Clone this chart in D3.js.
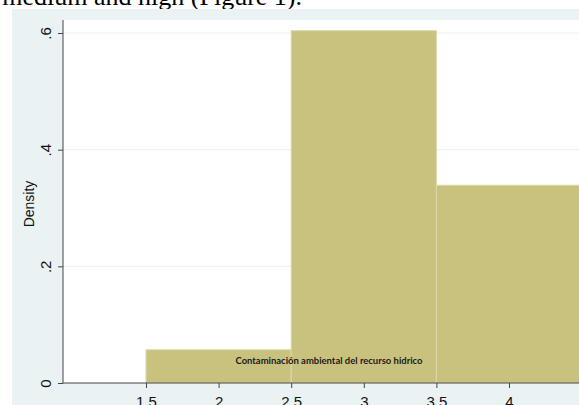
<!DOCTYPE html>
<html><head><meta charset="utf-8">
<script src="https://cdn.jsdelivr.net/npm/d3@7"></script>
<style>html,body{margin:0;padding:0;background:#fff;overflow:hidden}</style>
</head><body>
<svg id="c" width="579" height="405"></svg>
<script>
const binEdges = [1.5, 2.5, 3.5, 4.5];
const densities = [0.057, 0.604, 0.339];
const xTicks = [1.5, 2, 2.5, 3, 3.5, 4];
const xTickLabels = ["1.5", "2", "2.5", "3", "3.5", "4"];
const yTicks = [0, 0.2, 0.4, 0.6];
const yTickLabels = ["0", ".2", ".4", ".6"];
const yTitle = "Density";
const noteText = "Contaminación ambiental del recurso hidrico";
const headText = "medium and high (Figure 1).";

const svg = d3.select("#c");
const W = 579, H = 405;
const plot = {left: 63, top: 20, right: 579, bottom: 383};

const x = d3.scaleLinear().domain([1.5, 4]).range([146, 509]);
const y = d3.scaleLinear().domain([0, 0.6]).range([383, 33]);

// page text above
svg.append("text").attr("x", 302).attr("y", 5).attr("text-anchor", "end")
  .attr("font-family", "Liberation Serif, Times New Roman, serif").attr("font-size", 26)
  .attr("fill", "#000").text(headText);

// graph region
svg.append("rect").attr("x", 12).attr("y", 9).attr("width", W - 12).attr("height", H - 9).attr("fill", "#eaf2f3");
// plot region
svg.append("rect").attr("x", plot.left).attr("y", plot.top).attr("width", plot.right - plot.left)
  .attr("height", plot.bottom - plot.top).attr("fill", "#fff");

svg.append("clipPath").attr("id", "clip").append("rect")
  .attr("x", plot.left).attr("y", plot.top).attr("width", plot.right - plot.left).attr("height", plot.bottom - plot.top);

const g = svg.append("g").attr("clip-path", "url(#clip)");
// gridlines
g.selectAll("line.grid").data(yTicks.slice(1)).join("line")
  .attr("x1", plot.left).attr("x2", plot.right)
  .attr("y1", d => y(d)).attr("y2", d => y(d))
  .attr("stroke", "#eaf0f1").attr("stroke-width", 1);

// bars
const bins = densities.map((d, i) => ({x0: binEdges[i], x1: binEdges[i + 1], v: d}));
g.selectAll("rect.bar").data(bins).join("rect")
  .attr("x", d => x(d.x0)).attr("width", d => x(d.x1) - x(d.x0))
  .attr("y", d => y(d.v)).attr("height", d => y(0) - y(d.v))
  .attr("fill", "#c9c27f").attr("stroke", "#dcd8a8").attr("stroke-width", 1);

// note text
svg.append("text").attr("x", 329).attr("y", 364).attr("text-anchor", "middle")
  .attr("font-family", "Lato, Open Sans, sans-serif").attr("font-weight", "bold")
  .attr("font-size", 10).attr("fill", "#1a1a1a")
  .attr("textLength", 187).attr("lengthAdjust", "spacingAndGlyphs").text(noteText);

// y axis
const yAxis = d3.axisLeft(y).tickValues(yTicks).tickSize(5).tickFormat((d, i) => yTickLabels[i]);
const ya = svg.append("g").attr("transform", `translate(${plot.left},0)`).call(yAxis);
ya.select(".domain").attr("d", `M0,${plot.top}V${plot.bottom}`).attr("stroke", "#444");
ya.selectAll(".tick line").attr("stroke", "#444");
ya.selectAll(".tick text").attr("font-family", "Liberation Sans, Arial, sans-serif").attr("font-size", 15)
  .attr("fill", "#111").attr("text-anchor", "middle").attr("dy", 0)
  .attr("x", 0).attr("y", 0)
  .attr("transform", "translate(-12,0) rotate(-90)");

// y title
svg.append("text").attr("transform", "translate(34,204) rotate(-90)").attr("text-anchor", "middle")
  .attr("font-family", "Liberation Sans, Arial, sans-serif").attr("font-size", 14).attr("fill", "#111").text(yTitle);

// x axis
const xAxis = d3.axisBottom(x).tickValues(xTicks).tickSize(5).tickFormat((d, i) => xTickLabels[i]);
const xa = svg.append("g").attr("transform", `translate(0,${plot.bottom})`).call(xAxis);
xa.select(".domain").attr("d", `M${plot.left},0H${plot.right}`).attr("stroke", "#444");
xa.selectAll(".tick line").attr("stroke", "#444");
xa.selectAll(".tick text").attr("font-family", "Liberation Sans, Arial, sans-serif").attr("font-size", 15)
  .attr("fill", "#111").attr("dy", 0).attr("y", 24);
</script>
</body></html>
